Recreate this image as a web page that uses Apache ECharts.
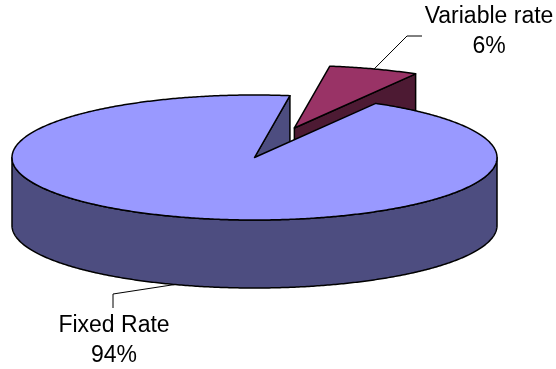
<!DOCTYPE html>
<html>
<head>
<meta charset="utf-8">
<script src="https://cdn.jsdelivr.net/npm/echarts@6/dist/echarts.min.js"></script>
<style>
  html, body { margin: 0; padding: 0; background: #ffffff; }
  #chart { width: 556px; height: 369px; }
</style>
</head>
<body>
<div id="chart"></div>
<script>
// Loan split by rate type
const categories = ['Fixed Rate', 'Variable rate'];
const shares = [94, 6];
const topColors = ['#9999FF', '#993366'];
const sideColors = ['#4D4D80', '#4D1A33'];
const explodeBy = [0, 0.5];

// Tilted disc geometry (pixels) and first-slice angle (degrees, counter-clockwise from east)
const disc = { cx: 254.5, cy: 157.5, rx: 242.5, ry: 62.5, depth: 68, startDeg: 60 };

// Label block top-centre and leader elbow points, per slice
const labelLayout = [
  { text: [114, 311], path: [[113, 308], [113, 294]] },
  { text: [489, 2], path: [[422, 36], [407, 36]] }
];

const FONT = '23px "Liberation Sans", Arial, sans-serif';
const total = shares.reduce((a, b) => a + b, 0);
const rad = d => d * Math.PI / 180;

// Slices run clockwise from startDeg; returns [lo, hi] in counter-clockwise degrees
function sliceRange(i) {
  let before = 0;
  for (let k = 0; k < i; k++) before += shares[k];
  const a0 = disc.startDeg - before / total * 360;
  const a1 = a0 - shares[i] / total * 360;
  return [a1, a0];
}

function sliceOffset(i) {
  const [lo, hi] = sliceRange(i);
  const mid = rad((lo + hi) / 2);
  return [explodeBy[i] * disc.rx * Math.cos(mid), -explodeBy[i] * disc.ry * Math.sin(mid)];
}

function pt(off, deg, z) {
  const t = rad(deg);
  return [disc.cx + off[0] + disc.rx * Math.cos(t), disc.cy + off[1] - disc.ry * Math.sin(t) + z];
}

function arc(off, from, to, z) {
  const n = Math.max(2, Math.ceil(Math.abs(to - from) / 0.5));
  const out = [];
  for (let s = 0; s <= n; s++) out.push(pt(off, from + (to - from) * s / n, z));
  return out;
}

// Back slices are painted first
const order = shares.map((v, i) => i).sort((a, b) => {
  const ma = sliceRange(a), mb = sliceRange(b);
  return Math.sin(rad((mb[0] + mb[1]) / 2)) - Math.sin(rad((ma[0] + ma[1]) / 2));
});

function renderItem(params, api) {
  const i = params.dataIndex;
  const value = api.value(0);
  const [lo, hi] = sliceRange(i);
  const off = sliceOffset(i);
  const D = disc.depth;
  const base = order.indexOf(i) * 10;
  const edge = { stroke: '#000000', lineWidth: 1.5, lineJoin: 'round' };
  const children = [];
  const c0 = [disc.cx + off[0], disc.cy + off[1]];
  const cD = [c0[0], c0[1] + D];

  // Cut faces facing the viewer
  if (Math.cos(rad(lo)) > 0) {
    children.push({ type: 'polygon', z2: base + 1,
      shape: { points: [c0, pt(off, lo, 0), pt(off, lo, D), cD] },
      style: Object.assign({ fill: sideColors[i] }, edge) });
  }
  if (Math.cos(rad(hi)) < 0) {
    children.push({ type: 'polygon', z2: base + 1,
      shape: { points: [c0, pt(off, hi, 0), pt(off, hi, D), cD] },
      style: Object.assign({ fill: sideColors[i] }, edge) });
  }

  // Front part of the rim
  for (let k = -2; k <= 1; k++) {
    const s = Math.max(lo, 180 + 360 * k);
    const e = Math.min(hi, 360 + 360 * k);
    if (s < e) {
      const pts = arc(off, s, e, 0).concat(arc(off, e, s, D));
      children.push({ type: 'polygon', z2: base + 2,
        shape: { points: pts },
        style: Object.assign({ fill: sideColors[i] }, edge) });
    }
  }

  // Top face
  children.push({ type: 'polygon', z2: base + 3,
    shape: { points: [c0].concat(arc(off, lo, hi, 0)) },
    style: Object.assign({ fill: topColors[i] }, edge) });

  // Leader line and label
  const midDeg = (lo + hi) / 2;
  const anchor = pt(off, midDeg, Math.sin(rad(midDeg)) < 0 ? D : 0);
  const lay = labelLayout[i];
  children.push({ type: 'polyline', z2: 50,
    shape: { points: lay.path.concat([anchor]) },
    style: { stroke: '#000000', lineWidth: 1, fill: null } });
  children.push({ type: 'text', z2: 51, x: lay.text[0], y: lay.text[1],
    style: {
      text: categories[i] + '\n' + Math.round(value / total * 100) + '%',
      fill: '#000000', font: FONT, align: 'center', verticalAlign: 'top', lineHeight: 30
    } });

  return { type: 'group', children: children };
}

const chart = echarts.init(document.getElementById('chart'), null, { renderer: 'canvas' });
chart.setOption({
  backgroundColor: '#ffffff',
  animation: false,
  series: [{
    type: 'custom',
    coordinateSystem: 'none',
    silent: true,
    renderItem: renderItem,
    data: shares.map(v => [v])
  }]
});
</script>
</body>
</html>
